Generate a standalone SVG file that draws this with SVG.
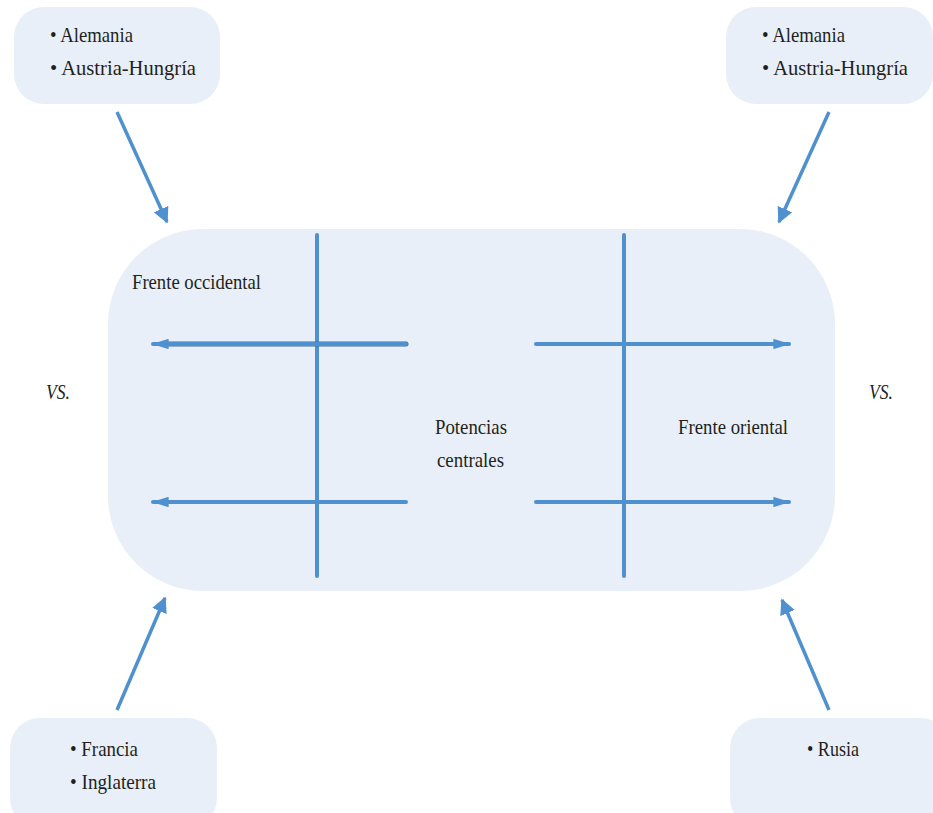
<svg xmlns="http://www.w3.org/2000/svg" width="933" height="813" viewBox="0 0 933 813">
<style>
.box{fill:#e8eff8}
text{font-family:'Liberation Serif','DejaVu Serif','Times New Roman',serif;font-size:22px;fill:#231f20}
.i{font-style:italic}
.ln{stroke:#4f90cf;stroke-width:4;stroke-linecap:round;fill:none}
.ar{stroke:#4f90cf;stroke-width:3.5;fill:none;marker-end:url(#ah)}
</style>
<defs>
<marker id="ah" viewBox="0 0 10 10" refX="9" refY="5" markerWidth="4.5" markerHeight="4.5" orient="auto" markerUnits="strokeWidth">
<path d="M0,0 L10,5 L0,10 z" fill="#4f90cf"/>
</marker>
<marker id="ah2" viewBox="0 0 16 10" refX="15" refY="5" markerWidth="4.5" markerHeight="2.6" orient="auto" markerUnits="strokeWidth">
<path d="M0,0 L16,5 L0,10 z" fill="#4f90cf"/>
</marker>
</defs>
<g id="main">
<rect class="box" x="108" y="229" width="727" height="362" rx="95" ry="95"/>
<text x="132" y="289" textLength="129" lengthAdjust="spacingAndGlyphs">Frente occidental</text>
<text x="678" y="434" textLength="110" lengthAdjust="spacingAndGlyphs">Frente oriental</text>
<text x="435" y="434" textLength="72" lengthAdjust="spacingAndGlyphs">Potencias</text>
<text x="437" y="467" textLength="67" lengthAdjust="spacingAndGlyphs">centrales</text>
</g>
<g id="tl">
<rect class="box" x="14" y="7" width="206" height="97" rx="30"/>
<text x="50" y="42" textLength="83" lengthAdjust="spacingAndGlyphs">• Alemania</text>
<text x="50" y="75" textLength="146" lengthAdjust="spacingAndGlyphs">• Austria-Hungría</text>
</g>
<g id="tr">
<rect class="box" x="726" y="7" width="207" height="97" rx="30"/>
<text x="762" y="42" textLength="83" lengthAdjust="spacingAndGlyphs">• Alemania</text>
<text x="762" y="75" textLength="146" lengthAdjust="spacingAndGlyphs">• Austria-Hungría</text>
</g>
<g id="bl">
<rect class="box" x="10" y="718" width="207" height="110" rx="30"/>
<text x="70" y="756" textLength="68" lengthAdjust="spacingAndGlyphs">• Francia</text>
<text x="70" y="789" textLength="86" lengthAdjust="spacingAndGlyphs">• Inglaterra</text>
</g>
<g id="br">
<rect class="box" x="730" y="718" width="220" height="110" rx="30"/>
<text x="807" y="756" textLength="52" lengthAdjust="spacingAndGlyphs">• Rusia</text>
</g>
<g id="vs">
<text class="i" x="46" y="399" textLength="24" lengthAdjust="spacingAndGlyphs">VS.</text>
<text class="i" x="869" y="399" textLength="24" lengthAdjust="spacingAndGlyphs">VS.</text>
</g>
<g id="connectors">
<line class="ar" x1="117" y1="112" x2="167" y2="222"/>
<line class="ar" x1="829" y1="112" x2="779" y2="222"/>
<line class="ar" x1="117" y1="710" x2="165" y2="598"/>
<line class="ar" x1="829" y1="710" x2="782" y2="600"/>
<line class="ln" x1="317" y1="235" x2="317" y2="576"/>
<line class="ln" x1="624" y1="235" x2="624" y2="576"/>
<line x1="406" y1="344" x2="166" y2="344" stroke="#3f6e9e" stroke-width="5" stroke-linecap="round"/>
<line class="ln" x1="406" y1="344" x2="153" y2="344" marker-end="url(#ah2)"/>
<line class="ln" x1="406" y1="502" x2="153" y2="502" marker-end="url(#ah2)"/>
<line class="ln" x1="536" y1="344" x2="789" y2="344" marker-end="url(#ah2)"/>
<line class="ln" x1="536" y1="502" x2="789" y2="502" marker-end="url(#ah2)"/>
</g>
</svg>
